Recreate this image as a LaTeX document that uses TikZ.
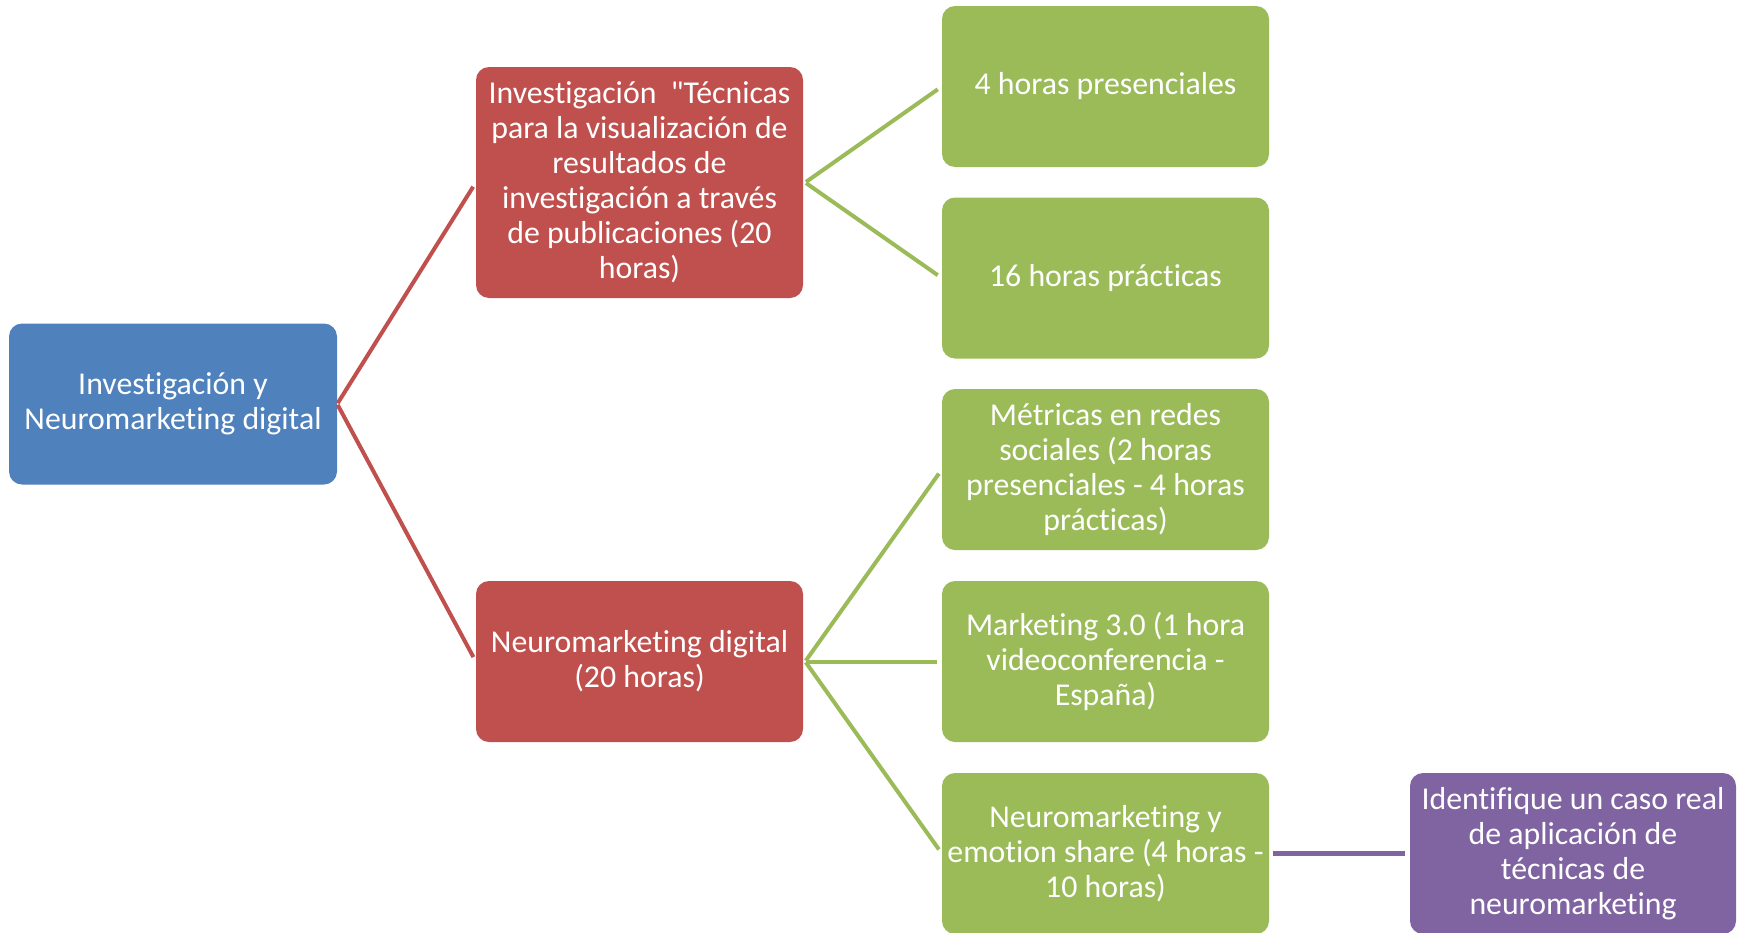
\documentclass[tikz,border=0pt]{standalone}
\usepackage{fontspec}
\setmainfont{Carlito}[Ligatures={TeXOff,NoCommon}]
\definecolor{cblue}{HTML}{4F81BD}
\definecolor{cred}{HTML}{C0504D}
\definecolor{cgreen}{HTML}{9BBB59}
\definecolor{cpurple}{HTML}{8064A2}
\begin{document}
\begin{tikzpicture}[x=1pt,y=-1pt,
  box/.style={rounded corners=13pt, text=white, align=center, inner sep=0pt,
    minimum width=327pt, font=\fontsize{31.8}{35}\selectfont},
  bluebox/.style={box, fill=cblue, minimum height=161pt},
  redbox/.style={box, fill=cred},
  greenbox/.style={box, fill=cgreen, minimum height=161pt},
  purplebox/.style={box, fill=cpurple, minimum height=161pt},
  link/.style={line width=4pt, shorten >=5pt, shorten <=1pt}]
\useasboundingbox (0,0) rectangle (1738,932);
\node[bluebox, minimum width=328pt] (root) at (173,404) {Investigación y\\Neuromarketing digital};
\node[redbox, minimum height=231pt] (r1) at (639.5,182.5) {Investigación\ \ "Técnicas\\para la visualización de\\resultados de\\investigación a través\\de publicaciones (20\\horas)};
\node[redbox, minimum height=161pt] (r2) at (639.5,661.5) {Neuromarketing digital\\(20 horas)};
\node[greenbox] (g1) at (1105.5,86.5) {4 horas presenciales};
\node[greenbox] (g2) at (1105.5,278) {16 horas prácticas};
\node[greenbox] (g3) at (1105.5,469.5) {Métricas en redes\\sociales (2 horas\\presenciales - 4 horas\\prácticas)};
\node[greenbox] (g4) at (1105.5,661.5) {Marketing 3.0 (1 hora\\videoconferencia -\\España)};
\node[greenbox] (g5) at (1105.5,853.5) {Neuromarketing y\\emotion share (4 horas -\\10 horas)};
\node[purplebox, minimum width=326pt] (p1) at (1573,853.5) {Identifique un caso real\\de aplicación de\\técnicas de\\neuromarketing};
\draw[link, cred] (root.east) -- (r1.west);
\draw[link, cred] (root.east) -- (r2.west);
\draw[link, cgreen] ([xshift=2pt]r1.east) -- (g1.west);
\draw[link, cgreen] ([xshift=2pt]r1.east) -- (g2.west);
\draw[link, cgreen] ([xshift=2pt]r2.east) -- (g3.west);
\draw[link, cgreen] ([xshift=2pt]r2.east) -- (g4.west);
\draw[link, cgreen] ([xshift=2pt]r2.east) -- (g5.west);
\draw[link, cpurple, line width=5pt] ([xshift=3pt]g5.east) -- (p1.west);
\end{tikzpicture}
\end{document}
